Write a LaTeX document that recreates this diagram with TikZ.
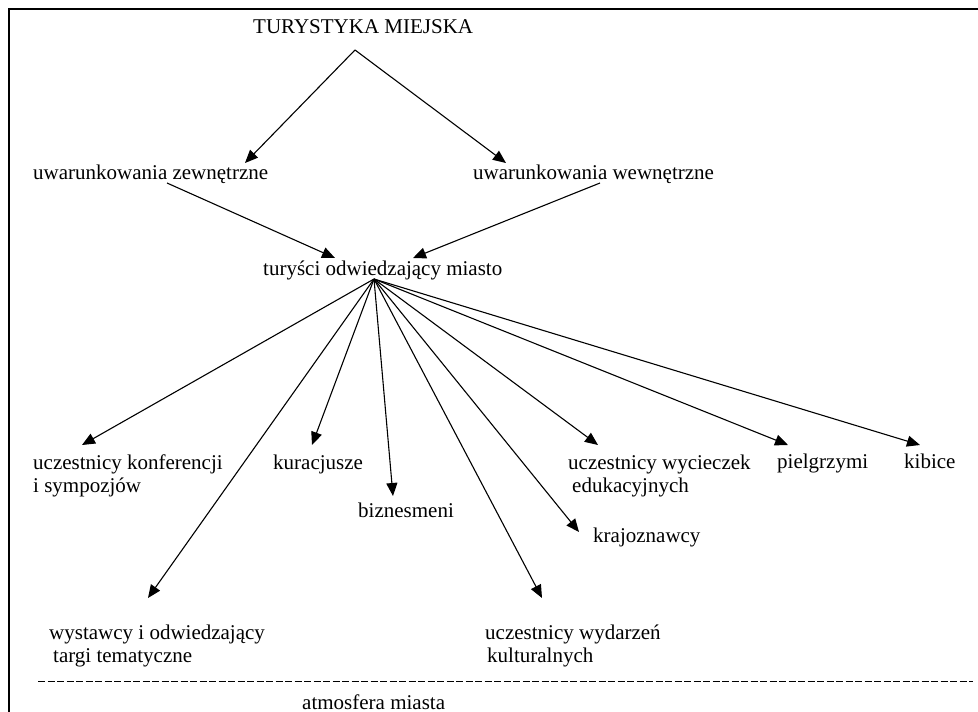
\documentclass[tikz,border=0pt]{standalone}
\usepackage{fontspec}
\setmainfont{Liberation Serif}
\usetikzlibrary{arrows.meta,calc}

\begin{document}
\begin{tikzpicture}[
    x=1pt, y=-1pt,
    >={Triangle[length=13pt,width=11pt]},
    lbl/.style={inner sep=0pt, anchor=base west, align=left,
                font=\fontsize{21}{23}\selectfont},
    arr/.style={->, line width=1.1pt}
]
    \path[use as bounding box] (0,0) rectangle (978,712);
    \draw[line width=1.3pt] (978,9) -- (9,9) -- (9,712);

    % naglowek i uwarunkowania
    \node[lbl] (tytul) at (253,34) {TURYSTYKA MIEJSKA};
    \node[lbl] (zew) at (33,179) {uwarunkowania zewnętrzne};
    \node[lbl] (wew) at (473,179) {uwarunkowania wewnętrzne};
    \node[lbl] (tur) at (263,275) {turyści odwiedzający miasto};

    % grupy turystow (base = ostatnia linia)
    \node[lbl] (konf) at (33,492) {uczestnicy konferencji\\i sympozjów};
    \node[lbl] (kur)  at (273,469) {kuracjusze};
    \node[lbl] (biz)  at (358,517) {biznesmeni};
    \node[lbl] (wyc)  at (568,492) {uczestnicy wycieczek\\\hspace*{4pt}edukacyjnych};
    \node[lbl] (piel) at (777,468) {pielgrzymi};
    \node[lbl] (kib)  at (904,468) {kibice};
    \node[lbl] (kraj) at (593,542) {krajoznawcy};
    \node[lbl] (wyst) at (49,662) {wystawcy i odwiedzający\\\hspace*{4pt}targi tematyczne};
    \node[lbl] (wyd)  at (485,662) {uczestnicy wydarzeń\\\hspace*{2pt}kulturalnych};
    \node[lbl] (atm)  at (302,709) {atmosfera miasta};

    \coordinate (szczyt) at ($(tytul.base west)+(102,16)$);
    \coordinate (wezel) at ($(tur.base west)+(111,4)$);

    \draw[arr] (szczyt) -- ($(zew.base west)+(212,-16)$);
    \draw[arr] (szczyt) -- ($(wew.base west)+(33,-16)$);
    \draw[arr] ($(zew.base west)+(134,4)$) -- ($(tur.base west)+(72,-17)$);
    \draw[arr] ($(wew.base west)+(127,4)$) -- ($(tur.base west)+(150,-17)$);

    \draw[arr] (wezel) -- ($(konf.base west)+(49,-47)$);
    \draw[arr] (wezel) -- ($(wyst.base west)+(99,-64)$);
    \draw[arr] (wezel) -- ($(kur.base west)+(39,-24)$);
    \draw[arr] (wezel) -- ($(biz.base west)+(35,-21)$);
    \draw[arr] (wezel) -- ($(wyd.base west)+(57,-64)$);
    \draw[arr] (wezel) -- ($(kraj.base west)+(-14,-10)$);
    \draw[arr] (wezel) -- ($(wyc.base west)+(30,-47)$);
    \draw[arr] (wezel) -- ($(piel.base west)+(11,-23)$);
    \draw[arr] (wezel) -- ($(kib.base west)+(16,-23)$);

    \draw[line width=0.9pt, dash pattern=on 7pt off 2.5pt] (38,681) -- (973,681);
\end{tikzpicture}
\end{document}
